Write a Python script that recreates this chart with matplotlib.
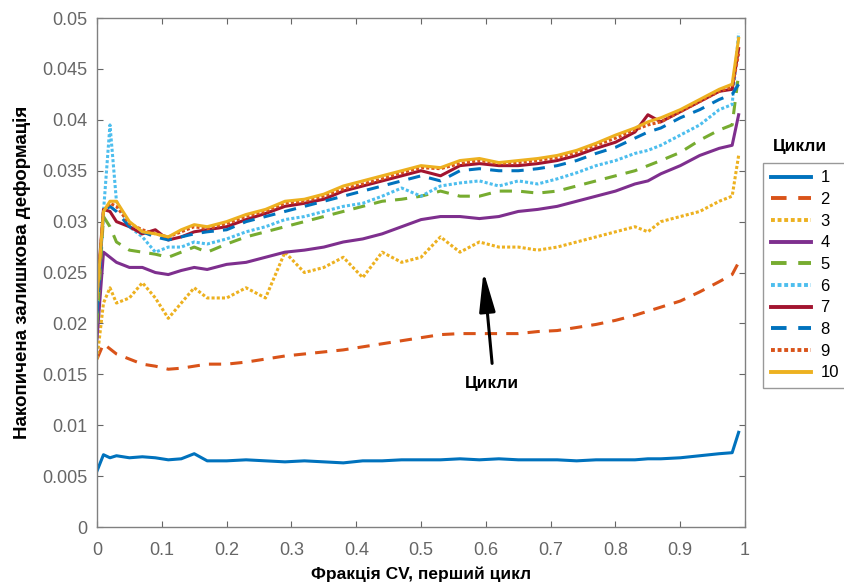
import matplotlib
matplotlib.use("Agg")
import matplotlib.pyplot as plt

plt.rcParams["font.family"] = ["Liberation Sans", "DejaVu Sans"]

# fraction of CV, first cycle
x = [0, 0.01, 0.02, 0.03, 0.05, 0.07, 0.09, 0.11, 0.13, 0.15, 0.17, 0.2, 0.23, 0.26,
     0.29, 0.32, 0.35, 0.38, 0.41, 0.44, 0.47, 0.5, 0.53, 0.56, 0.59, 0.62, 0.65, 0.68,
     0.71, 0.74, 0.77, 0.8, 0.83, 0.85, 0.87, 0.9, 0.93, 0.96, 0.98, 0.99]

c1 = [0.0055, 0.0071, 0.0068, 0.0070, 0.0068, 0.0069, 0.0068, 0.0066, 0.0067, 0.0072,
      0.0065, 0.0065, 0.0066, 0.0065, 0.0064, 0.0065, 0.0064, 0.0063, 0.0065, 0.0065,
      0.0066, 0.0066, 0.0066, 0.0067, 0.0066, 0.0067, 0.0066, 0.0066, 0.0066, 0.0065,
      0.0066, 0.0066, 0.0066, 0.0067, 0.0067, 0.0068, 0.0070, 0.0072, 0.0073, 0.0093]
c2 = [0.0165, 0.018, 0.0175, 0.017, 0.0165, 0.016, 0.0158, 0.0155, 0.0156, 0.0158,
      0.016, 0.016, 0.0162, 0.0165, 0.0168, 0.017, 0.0172, 0.0174, 0.0177, 0.018,
      0.0183, 0.0186, 0.0189, 0.019, 0.019, 0.019, 0.019, 0.0192, 0.0193, 0.0196,
      0.0199, 0.0203, 0.0208, 0.0212, 0.0216, 0.0222, 0.0231, 0.0241, 0.0248, 0.026]
c3 = [0.0165, 0.022, 0.0235, 0.022, 0.0225, 0.024, 0.0225, 0.0205, 0.022, 0.0235,
      0.0225, 0.0225, 0.0235, 0.0225, 0.027, 0.025, 0.0255, 0.0265, 0.0245, 0.027,
      0.026, 0.0265, 0.0285, 0.027, 0.028, 0.0275, 0.0275, 0.0272, 0.0275, 0.028,
      0.0285, 0.029, 0.0295, 0.029, 0.030, 0.0305, 0.031, 0.032, 0.0325, 0.0365]
c4 = [0.0185, 0.027, 0.0265, 0.026, 0.0255, 0.0255, 0.025, 0.0248, 0.0252, 0.0255,
      0.0253, 0.0258, 0.026, 0.0265, 0.027, 0.0272, 0.0275, 0.028, 0.0283, 0.0288,
      0.0295, 0.0302, 0.0305, 0.0305, 0.0303, 0.0305, 0.031, 0.0312, 0.0315, 0.032,
      0.0325, 0.033, 0.0337, 0.034, 0.0347, 0.0355, 0.0365, 0.0372, 0.0375, 0.0405]
c5 = [0.02, 0.0305, 0.0295, 0.028, 0.0272, 0.027, 0.0268, 0.0265, 0.027, 0.0275,
      0.027, 0.0278, 0.0285, 0.029, 0.0295, 0.03, 0.0305, 0.031, 0.0315, 0.032,
      0.0322, 0.0325, 0.033, 0.0325, 0.0325, 0.033, 0.033, 0.0328, 0.033, 0.0335,
      0.034, 0.0345, 0.035, 0.0355, 0.036, 0.0368, 0.038, 0.039, 0.0395, 0.0445]
c6 = [0.022, 0.031, 0.0395, 0.032, 0.0295, 0.0285, 0.027, 0.0275, 0.0275, 0.028,
      0.0278, 0.0283, 0.029, 0.0295, 0.0302, 0.0305, 0.031, 0.0315, 0.0318, 0.0325,
      0.0333, 0.0325, 0.0335, 0.0338, 0.034, 0.0335, 0.034, 0.0337, 0.0342, 0.0348,
      0.0355, 0.036, 0.0367, 0.037, 0.0375, 0.0385, 0.0395, 0.041, 0.0415, 0.0485]
c7 = [0.023, 0.0312, 0.031, 0.03, 0.0295, 0.0288, 0.0292, 0.0282, 0.0285, 0.029,
      0.0292, 0.0295, 0.0302, 0.0308, 0.0315, 0.0318, 0.0322, 0.033, 0.0335, 0.034,
      0.0345, 0.035, 0.0345, 0.0355, 0.0357, 0.0355, 0.0355, 0.0357, 0.036, 0.0365,
      0.0372, 0.0378, 0.0388, 0.0405, 0.0398, 0.0408, 0.0418, 0.0428, 0.043, 0.047]
c8 = [0.021, 0.031, 0.0315, 0.031, 0.0295, 0.029, 0.0285, 0.0282, 0.0285, 0.0288,
      0.029, 0.0292, 0.030, 0.0305, 0.031, 0.0315, 0.032, 0.0325, 0.033, 0.0335,
      0.034, 0.0345, 0.034, 0.035, 0.0352, 0.035, 0.035, 0.0352, 0.0355, 0.036,
      0.0367, 0.0373, 0.0382, 0.0388, 0.0392, 0.0402, 0.041, 0.042, 0.0425, 0.0435]
c9 = [0.0225, 0.031, 0.0318, 0.0315, 0.0298, 0.0292, 0.0288, 0.0285, 0.029, 0.0295,
      0.0293, 0.0298, 0.0305, 0.031, 0.0318, 0.032, 0.0325, 0.0332, 0.0337, 0.0342,
      0.0348, 0.0353, 0.0352, 0.0357, 0.036, 0.0357, 0.0358, 0.036, 0.0363, 0.0368,
      0.0375, 0.0382, 0.039, 0.0395, 0.0398, 0.0408, 0.0418, 0.0428, 0.0432, 0.0465]
c10 = [0.0225, 0.031, 0.032, 0.032, 0.030, 0.029, 0.0288, 0.0285, 0.0292, 0.0297,
       0.0295, 0.03, 0.0307, 0.0312, 0.032, 0.0322, 0.0327, 0.0335, 0.034, 0.0345,
       0.035, 0.0355, 0.0353, 0.036, 0.0362, 0.0358, 0.036, 0.0362, 0.0365, 0.037,
       0.0377, 0.0385, 0.0392, 0.0398, 0.0402, 0.041, 0.042, 0.043, 0.0435, 0.048]

series = [c1, c2, c3, c4, c5, c6, c7, c8, c9, c10]
labels = ["1", "2", "3", "4", "5", "6", "7", "8", "9", "10"]

COLORS = ["#0072BD", "#D95319", "#EDB120", "#7E2F8E", "#77AC30",
          "#4DBEEE", "#A2142F", "#0072BD", "#D95319", "#EDB120"]
DASH = [None, (4, 3), (1, 0.7), None, (4, 3), (1, 0.7), None, (4, 3), (1, 0.7), None]

fig = plt.figure(figsize=(8.45, 5.82), dpi=100)
ax = fig.add_axes([0.1148, 0.0945, 0.767, 0.8745])

for y, lab, col, d in zip(series, labels, COLORS, DASH):
    ln, = ax.plot(x, y, color=col, lw=2.2, label=lab)
    if d is not None:
        ln.set_dashes(d)

ax.set_xlim(0, 1)
ax.set_ylim(0, 0.05)
ax.set_xticks([0, 0.1, 0.2, 0.3, 0.4, 0.5, 0.6, 0.7, 0.8, 0.9, 1])
ax.set_xticklabels(["0", "0.1", "0.2", "0.3", "0.4", "0.5", "0.6", "0.7", "0.8", "0.9", "1"])
ax.set_yticks([0, 0.005, 0.01, 0.015, 0.02, 0.025, 0.03, 0.035, 0.04, 0.045, 0.05])
ax.set_yticklabels(["0", "0.005", "0.01", "0.015", "0.02", "0.025", "0.03",
                    "0.035", "0.04", "0.045", "0.05"])
ax.tick_params(direction="in", top=True, right=True, length=4, color="#666666",
               labelcolor="#666666", labelsize=13)
ax.tick_params(axis="x", pad=11)
ax.tick_params(axis="y", pad=7)
for s in ax.spines.values():
    s.set_color("#808080")
    s.set_linewidth(1.0)

ax.set_xlabel("Фракція CV, перший цикл", fontsize=12.5, fontweight="bold", labelpad=5)
ax.set_ylabel("Накопичена залишкова деформація", fontsize=13.5, fontweight="bold", labelpad=8)

ax.annotate("", xy=(0.596, 0.0254), xytext=(0.61, 0.0158),
            arrowprops=dict(arrowstyle="-|>,head_length=1.1,head_width=0.22",
                            color="black", lw=2.2, mutation_scale=22))
ax.text(0.61, 0.0141, "Цикли", ha="center", va="center", fontsize=12.5, fontweight="bold")

leg = ax.legend(loc="upper left", bbox_to_anchor=(0.903, 0.72), bbox_transform=fig.transFigure,
                fontsize=12, frameon=True, fancybox=False, edgecolor="#808080",
                handlelength=2.4, labelspacing=0.4, borderaxespad=0, borderpad=0.45,
                handletextpad=0.6)
leg.get_frame().set_linewidth(1.0)
for h in leg.get_lines():
    h.set_linewidth(2.8)
fig.text(0.947, 0.748, "Цикли", ha="center", va="center", fontsize=12.5, fontweight="bold")

fig.savefig("out.png", dpi=100)
